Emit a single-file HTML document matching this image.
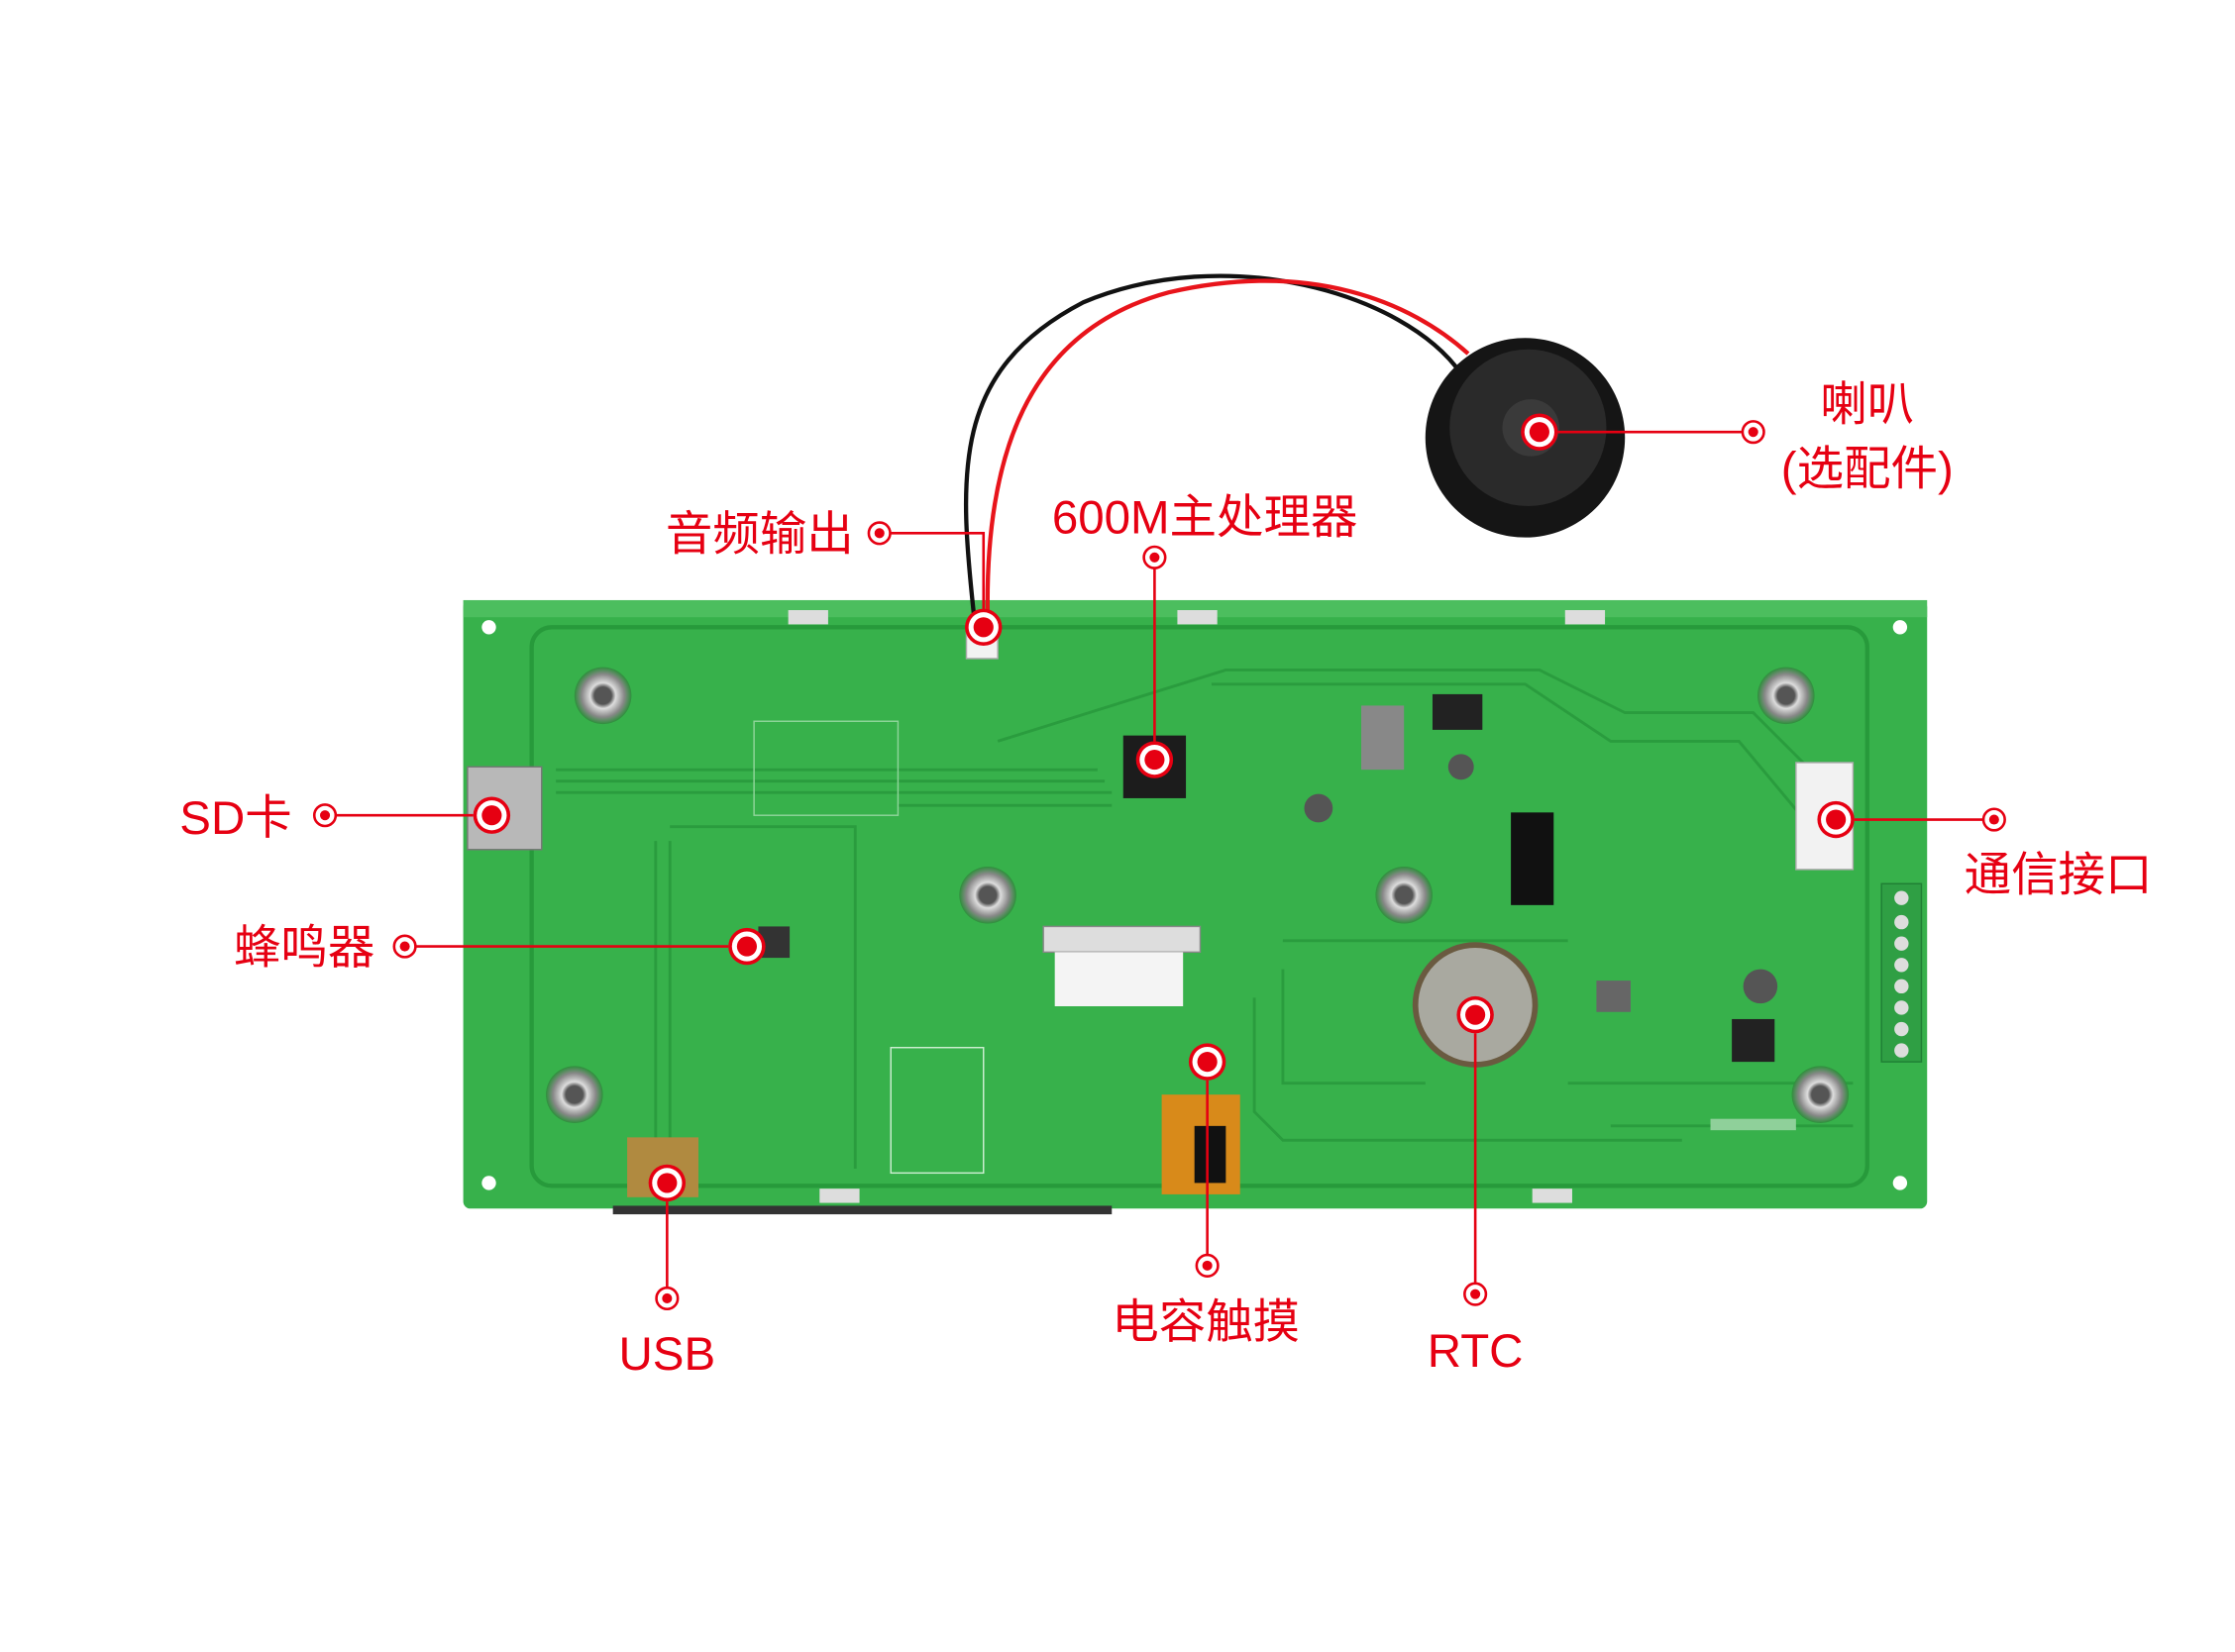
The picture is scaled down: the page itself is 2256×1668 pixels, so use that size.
<!DOCTYPE html>
<html><head><meta charset="utf-8"><style>
html,body{margin:0;padding:0;background:#fff}
svg{display:block}
text{font-family:"Liberation Sans","Noto Sans CJK SC",sans-serif;fill:#e60012}
</style></head><body>
<svg width="2256" height="1668" viewBox="0 0 1568 1159" xmlns="http://www.w3.org/2000/svg">
<defs>
<g id="big"><circle r="13" fill="#e60012"/><circle r="10.5" fill="#fff"/><circle r="7" fill="#e60012"/></g>
<g id="sm"><circle r="7.5" fill="none" stroke="#e60012" stroke-width="1.8"/><circle r="3.5" fill="#e60012"/></g>
<radialGradient id="boss"><stop offset="0.3" stop-color="#555"/><stop offset="0.45" stop-color="#ddd"/><stop offset="0.75" stop-color="#888"/><stop offset="1" stop-color="#2e8f3c"/></radialGradient>
</defs>
<rect width="1568" height="1159" fill="#fff"/>
<rect x="325" y="421" width="1027" height="427" rx="5" fill="#37b14b"/>
<rect x="325" y="421" width="1027" height="12" fill="#4cbe5e"/>
<rect x="373" y="440" width="937" height="392" rx="14" fill="none" stroke="#279a3b" stroke-width="3"/>
<g fill="none" stroke="#2a9c3e" stroke-width="2">
<path d="M390 540 H770 M390 548 H775 M390 556 H780 M630 565 H780"/>
<path d="M700 520 L860 470 H1080 L1140 500 H1230 L1290 560"/>
<path d="M850 480 H1070 L1130 520 H1220 L1270 580"/>
<path d="M470 580 H600 V650 M460 590 V800 M470 590 V800 M600 590 V820"/>
<path d="M900 660 H1100 M900 680 V760 H1000 M880 700 V780 L900 800 H1180"/>
<path d="M1100 760 H1300 M1130 790 H1300"/>
</g>
<rect x="529" y="506" width="101" height="66" fill="none" stroke="#8fd59a" stroke-width="1"/>
<g fill="#fff"><circle cx="343" cy="440" r="5"/><circle cx="1333" cy="440" r="5"/><circle cx="343" cy="830" r="5"/><circle cx="1333" cy="830" r="5"/></g>
<g fill="url(#boss)"><circle cx="423" cy="488" r="20"/><circle cx="1253" cy="488" r="20"/><circle cx="403" cy="768" r="20"/><circle cx="1277" cy="768" r="20"/><circle cx="693" cy="628" r="20"/><circle cx="985" cy="628" r="20"/></g>
<g fill="#ddd"><rect x="553" y="428" width="28" height="10"/><rect x="826" y="428" width="28" height="10"/><rect x="1098" y="428" width="28" height="10"/><rect x="575" y="834" width="28" height="10"/><rect x="1075" y="834" width="28" height="10"/></g>
<rect x="328" y="538" width="52" height="58" fill="#b8b8b8" stroke="#777"/>
<rect x="788" y="516" width="44" height="44" fill="#1c1c1c"/>
<rect x="732" y="650" width="110" height="18" fill="#ddd" stroke="#888"/>
<rect x="740" y="668" width="90" height="38" fill="#f4f4f4"/>
<rect x="815" y="768" width="55" height="70" fill="#d88a1a"/>
<rect x="838" y="790" width="22" height="40" fill="#111"/>
<rect x="1060" y="570" width="30" height="65" fill="#111"/>
<rect x="955" y="495" width="30" height="45" fill="#888"/>
<rect x="1005" y="487" width="35" height="25" fill="#222"/>
<rect x="1260" y="535" width="40" height="75" fill="#f2f2f2" stroke="#aaa"/>
<rect x="1320" y="620" width="28" height="125" fill="#2f9f44" stroke="#1f7f34"/>
<g fill="#ddd"><circle cx="1334" cy="630" r="5"/><circle cx="1334" cy="647" r="5"/><circle cx="1334" cy="662" r="5"/><circle cx="1334" cy="677" r="5"/><circle cx="1334" cy="692" r="5"/><circle cx="1334" cy="707" r="5"/><circle cx="1334" cy="722" r="5"/><circle cx="1334" cy="737" r="5"/></g>
<circle cx="1035" cy="705" r="42" fill="#a9a9a0" stroke="#6a5a40" stroke-width="4"/>
<circle cx="1235" cy="692" r="12" fill="#555"/>
<circle cx="925" cy="567" r="10" fill="#555"/>
<circle cx="1025" cy="538" r="9" fill="#555"/>
<rect x="1120" y="688" width="24" height="22" fill="#666"/>
<rect x="1215" y="715" width="30" height="30" fill="#222"/>
<rect x="440" y="798" width="50" height="42" fill="#b08a40"/>
<rect x="625" y="735" width="65" height="88" fill="none" stroke="#cdeed2"/>
<rect x="532" y="650" width="22" height="22" fill="#333"/>
<rect x="1200" y="785" width="60" height="8" fill="#8fd09a"/>
<rect x="430" y="846" width="350" height="6" fill="#333"/>
<path d="M684 438 C672 330 668 260 760 212 C860 170 985 205 1025 262" fill="none" stroke="#111" stroke-width="3"/>
<path d="M693 438 C690 320 720 232 820 205 C920 182 990 212 1030 248" fill="none" stroke="#e8141b" stroke-width="3"/>
<rect x="678" y="440" width="22" height="22" fill="#f2f2f2" stroke="#aaa"/>
<circle cx="1070" cy="307" r="70" fill="#151515"/>
<circle cx="1072" cy="300" r="55" fill="#2a2a2a"/>
<circle cx="1074" cy="300" r="20" fill="#3a3a3a"/>
<g stroke="#e60012" stroke-width="1.8" fill="none">
<path d="M624 374 H690 V428"/>
<path d="M810 398 V520"/>
<path d="M1222 303 H1093"/>
<path d="M235 572 H332"/>
<path d="M291 664 H511"/>
<path d="M1391 575 H1301"/>
<path d="M468 904 V843"/>
<path d="M847 881 V758"/>
<path d="M1035 901 V725"/>
</g>
<use href="#big" x="690" y="440"/><use href="#sm" x="617" y="374"/>
<use href="#big" x="810" y="533"/><use href="#sm" x="810" y="391"/>
<use href="#big" x="1080" y="303"/><use href="#sm" x="1230" y="303"/>
<use href="#big" x="345" y="572"/><use href="#sm" x="228" y="572"/>
<use href="#big" x="524" y="664"/><use href="#sm" x="284" y="664"/>
<use href="#big" x="1288" y="575"/><use href="#sm" x="1399" y="575"/>
<use href="#big" x="468" y="830"/><use href="#sm" x="468" y="911"/>
<use href="#big" x="847" y="745"/><use href="#sm" x="847" y="888"/>
<use href="#big" x="1035" y="712"/><use href="#sm" x="1035" y="908"/>
<g font-size="33">
<text x="467" y="386">音频输出</text>
<text x="738" y="374">600M主处理器</text>
<text x="1310" y="295" text-anchor="middle">喇叭</text>
<text x="1310" y="340" text-anchor="middle">(选配件)</text>
<text x="126" y="585">SD卡</text>
<text x="164" y="676">蜂鸣器</text>
<text x="1378" y="625">通信接口</text>
<text x="468" y="961" text-anchor="middle">USB</text>
<text x="846" y="939" text-anchor="middle">电容触摸</text>
<text x="1035" y="959" text-anchor="middle">RTC</text>
</g>
</svg>
</body></html>
